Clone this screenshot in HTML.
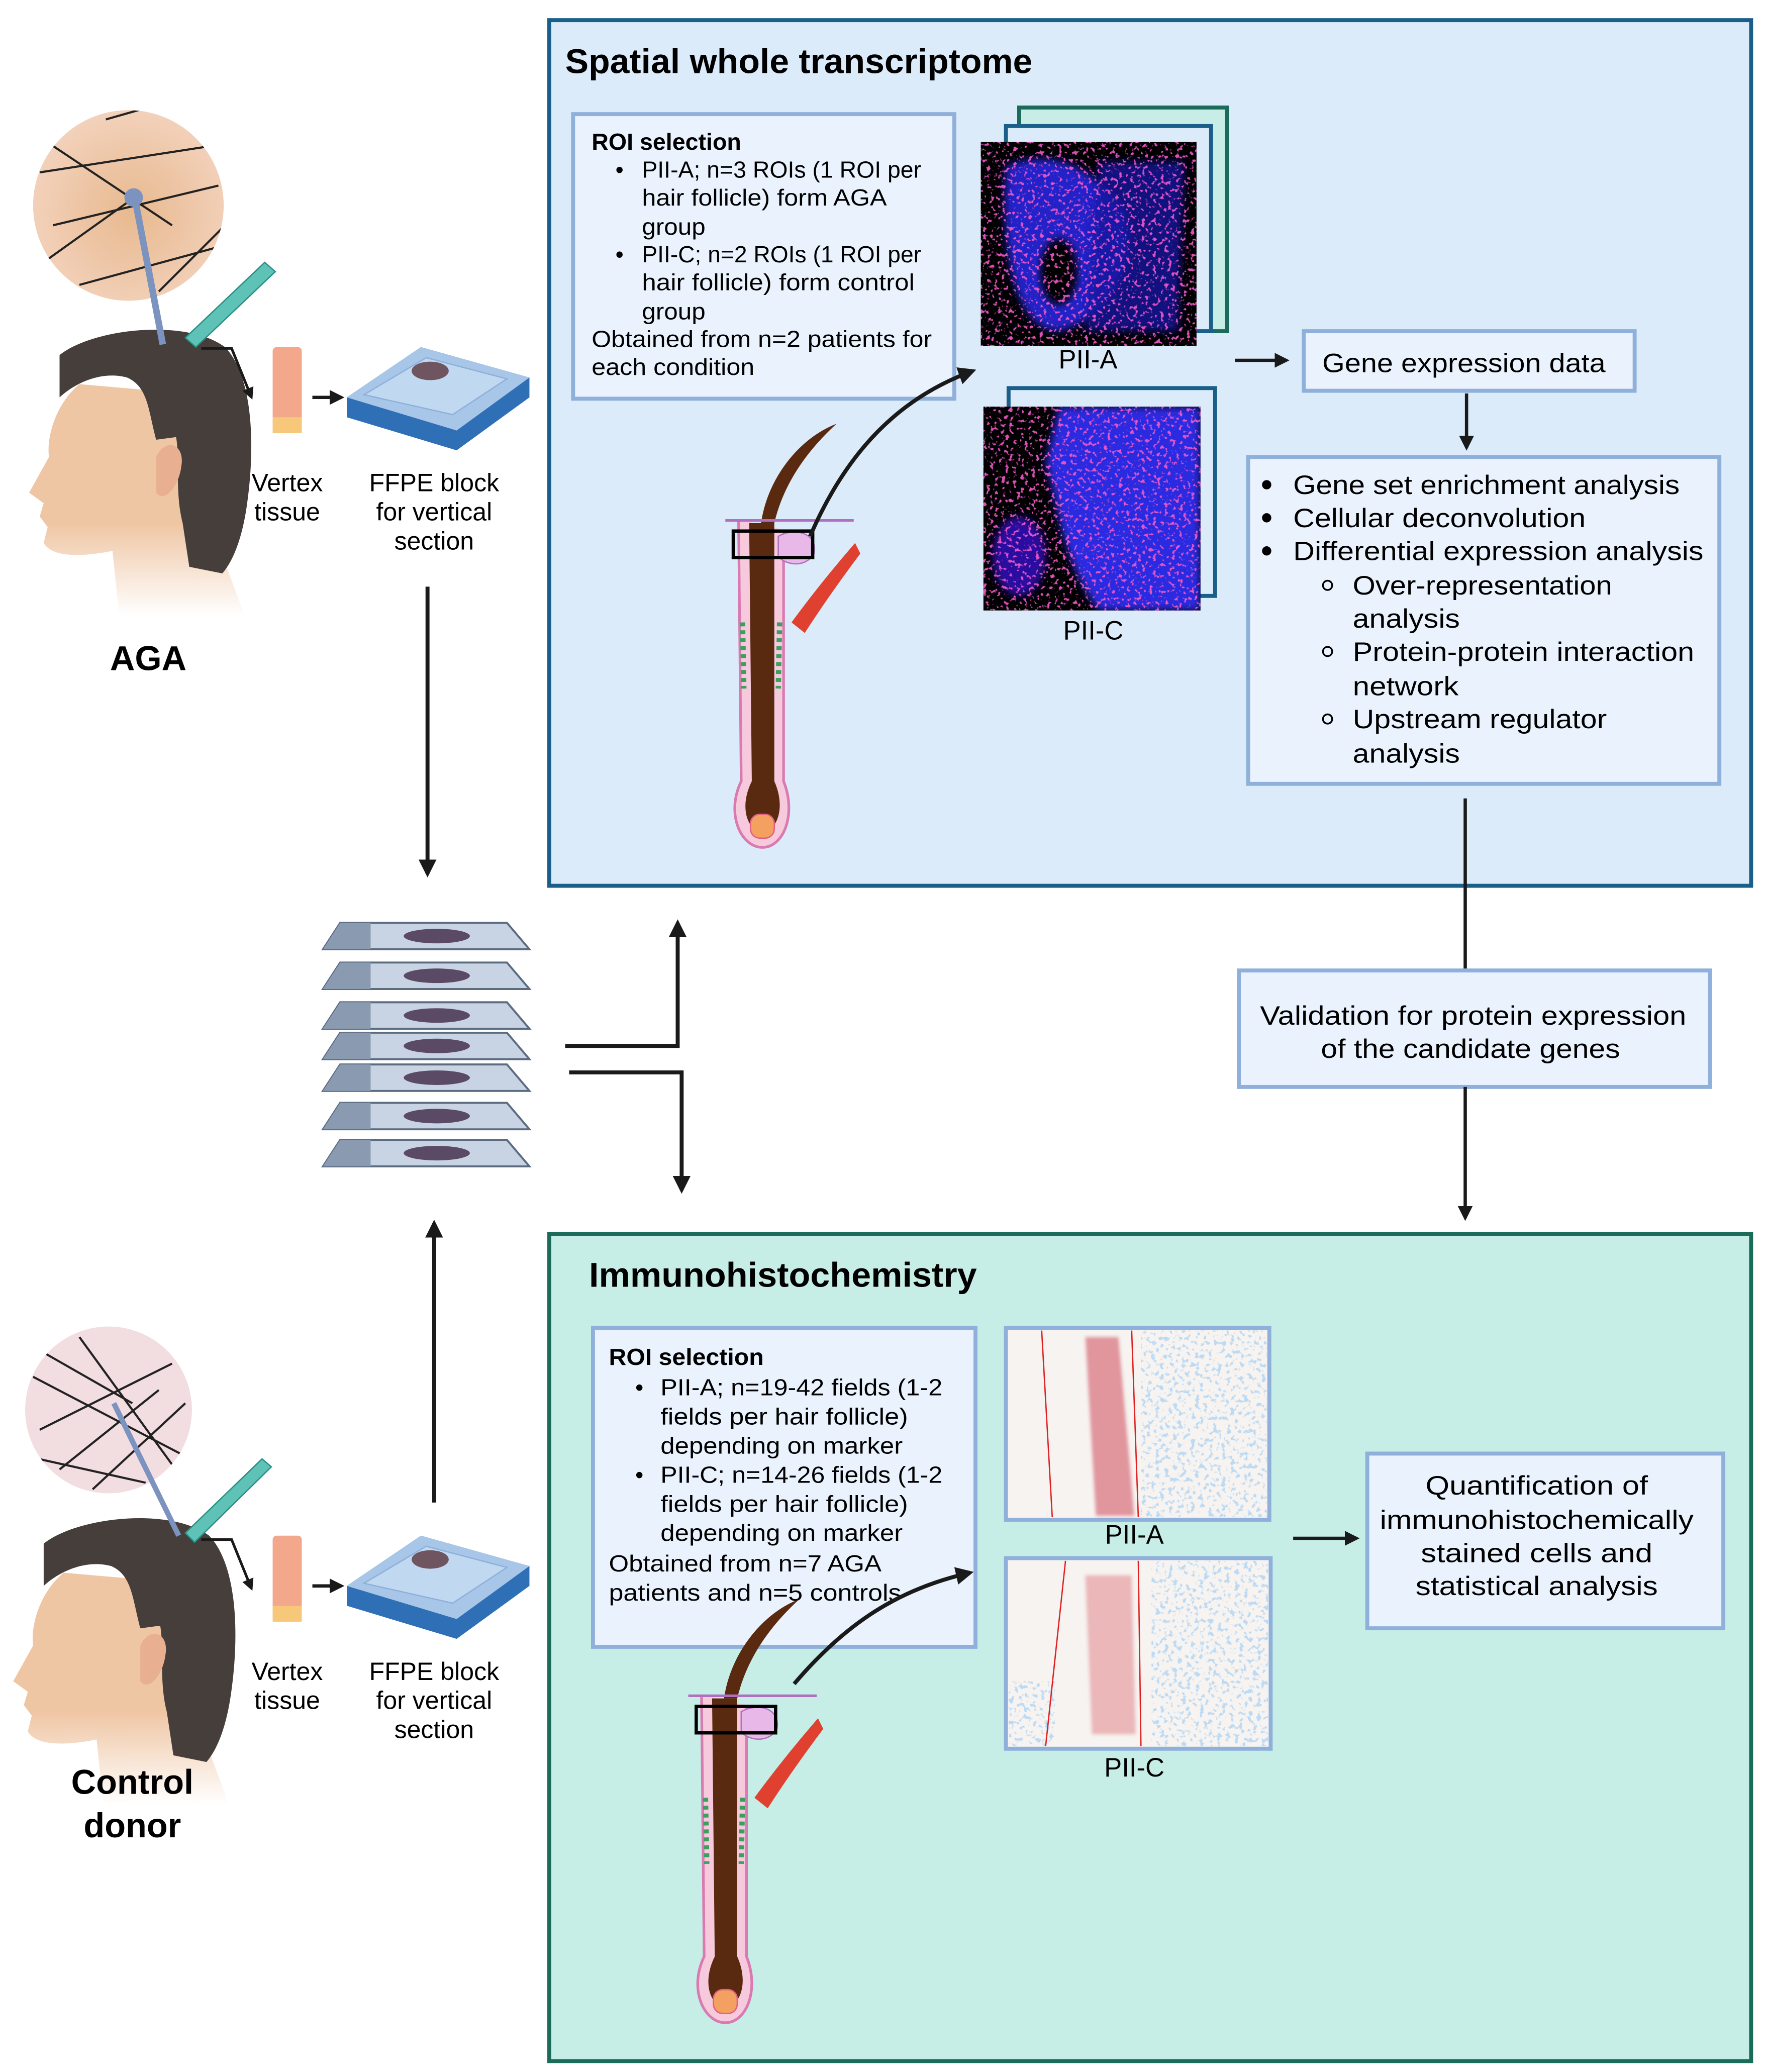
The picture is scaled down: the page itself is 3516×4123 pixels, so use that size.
<!DOCTYPE html>
<html><head><meta charset="utf-8"><style>
html,body{margin:0;padding:0;background:#fff}
svg{display:block}
text{font-family:"Liberation Sans",sans-serif;fill:#000}
.n{font-family:"Liberation Sans Narrow","Liberation Sans",sans-serif}
</style></head><body>
<svg width="3516" height="4123" viewBox="0 0 1335 1565" xmlns="http://www.w3.org/2000/svg">
<defs>
<marker id="ah" viewBox="0 0 10 10" refX="8" refY="5" markerWidth="4.5" markerHeight="4.5" orient="auto-start-reverse"><path d="M0,0 L10,5 L0,10 z" fill="#1a1a1a"/></marker>
<filter id="bl"><feGaussianBlur stdDeviation="3"/></filter>
<filter id="bl2"><feGaussianBlur stdDeviation="1.2"/></filter>
<filter id="spk" x="0" y="0" width="1" height="1">
<feTurbulence type="fractalNoise" baseFrequency="0.35" numOctaves="2" seed="3" result="t"/>
<feColorMatrix in="t" type="matrix" values="0 0 0 0 0.9  0 0 0 0 0.1  0 0 0 0 0.6  0 0 0 9 -5.2" result="m"/>
<feComposite in="m" in2="SourceGraphic" operator="in"/>
</filter>
<filter id="spkb" x="0" y="0" width="1" height="1">
<feTurbulence type="fractalNoise" baseFrequency="0.3" numOctaves="2" seed="8" result="t"/>
<feColorMatrix in="t" type="matrix" values="0 0 0 0 0.5  0 0 0 0 0.7  0 0 0 0 0.9  0 0 0 9 -5" result="m"/>
<feComposite in="m" in2="SourceGraphic" operator="in"/>
</filter>
<radialGradient id="skin" cx="0.5" cy="0.5" r="0.5"><stop offset="0" stop-color="#e8b98f"/><stop offset="1" stop-color="#f3d2bc"/></radialGradient>
<linearGradient id="neck" x1="0" y1="0" x2="0" y2="1"><stop offset="0.6" stop-color="#efc6a4"/><stop offset="1" stop-color="#efc6a4" stop-opacity="0"/></linearGradient>
<clipPath id="c1"><circle cx="97" cy="155" r="72"/></clipPath>
<clipPath id="c2"><circle cx="82" cy="1065" r="63"/></clipPath>
<clipPath id="i1"><rect x="741" y="107" width="163" height="154"/></clipPath>
<clipPath id="i2"><rect x="743" y="307" width="164" height="154"/></clipPath>
</defs>

<!-- Top panel -->
<rect x="415" y="15" width="908" height="654" fill="#dcebf9" stroke="#1a5f8a" stroke-width="3"/>
<text x="427" y="55" font-size="26" font-weight="bold" class="n" textLength="353" lengthAdjust="spacingAndGlyphs">Spatial whole transcriptome</text>

<rect x="433" y="86" width="288" height="215" fill="#eaf3fd" stroke="#8fb0da" stroke-width="3"/>
<g font-size="17.5" class="n">
<text x="447" y="113" font-weight="bold" class="n" textLength="113" lengthAdjust="spacingAndGlyphs">ROI selection</text>
<text x="465" y="134">•</text><text x="485" y="134" class="n" textLength="211" lengthAdjust="spacingAndGlyphs">PII-A; n=3 ROIs (1 ROI per</text>
<text x="485" y="155" class="n" textLength="185" lengthAdjust="spacingAndGlyphs">hair follicle) form AGA</text>
<text x="485" y="177" class="n" textLength="48" lengthAdjust="spacingAndGlyphs">group</text>
<text x="465" y="198">•</text><text x="485" y="198" class="n" textLength="211" lengthAdjust="spacingAndGlyphs">PII-C; n=2 ROIs (1 ROI per</text>
<text x="485" y="219" class="n" textLength="206" lengthAdjust="spacingAndGlyphs">hair follicle) form control</text>
<text x="485" y="241" class="n" textLength="48" lengthAdjust="spacingAndGlyphs">group</text>
<text x="447" y="262" class="n" textLength="257" lengthAdjust="spacingAndGlyphs">Obtained from n=2 patients for</text>
<text x="447" y="283" class="n" textLength="123" lengthAdjust="spacingAndGlyphs">each condition</text>
</g>

<!-- PII-A stack -->
<rect x="770" y="81" width="157" height="169" fill="#c8ece6" stroke="#1a6b5a" stroke-width="3"/>
<rect x="760" y="95" width="155" height="155" fill="#dcebf9" stroke="#1a5f8a" stroke-width="3"/>
<rect x="741" y="107" width="163" height="154" fill="#000"/>
<g clip-path="url(#i1)">
<path d="M760,125 C800,110 830,130 850,160 C860,200 840,240 800,250 C770,250 755,200 760,125z" fill="#2020c8" filter="url(#bl)"/>
<path d="M830,122 L895,122 L890,250 L820,250z" fill="#1818a0" filter="url(#bl)" opacity="0.8"/>
<ellipse cx="800" cy="205" rx="14" ry="25" fill="#000" filter="url(#bl)"/>
<rect x="741" y="107" width="163" height="154" fill="#fff" filter="url(#spk)" opacity="0.9"/>
</g>
<text x="822" y="278" font-size="20" text-anchor="middle">PII-A</text>

<!-- PII-C -->
<rect x="762" y="293" width="156" height="157" fill="#dcebf9" stroke="#1a5f8a" stroke-width="3"/>
<rect x="743" y="307" width="164" height="154" fill="#000"/>
<g clip-path="url(#i2)">
<path d="M800,307 L907,307 L907,461 L830,461 C800,420 800,380 790,350z" fill="#2a2ae0" filter="url(#bl)"/>
<ellipse cx="770" cy="420" rx="20" ry="30" fill="#2a10a0" filter="url(#bl)"/>
<rect x="743" y="307" width="164" height="154" fill="#fff" filter="url(#spk)" opacity="0.9"/>
</g>
<text x="826" y="483" font-size="20" text-anchor="middle">PII-C</text>

<line x1="933" y1="272" x2="972" y2="272" stroke="#1a1a1a" stroke-width="2.5" marker-end="url(#ah)"/>
<rect x="985" y="250" width="250" height="45" fill="#eaf3fd" stroke="#8fb0da" stroke-width="3"/>
<text x="1106" y="281" font-size="20" text-anchor="middle" textLength="214" lengthAdjust="spacingAndGlyphs">Gene expression data</text>
<line x1="1108" y1="297" x2="1108" y2="338" stroke="#1a1a1a" stroke-width="2.5" marker-end="url(#ah)"/>

<rect x="943" y="345" width="356" height="247" fill="#eaf3fd" stroke="#8fb0da" stroke-width="3"/>
<g font-size="20">
<circle cx="957" cy="366" r="3.5" fill="#000"/><text x="977" y="373" textLength="292" lengthAdjust="spacingAndGlyphs">Gene set enrichment analysis</text>
<circle cx="957" cy="391" r="3.5" fill="#000"/><text x="977" y="398" textLength="221" lengthAdjust="spacingAndGlyphs">Cellular deconvolution</text>
<circle cx="957" cy="416" r="3.5" fill="#000"/><text x="977" y="423" textLength="310" lengthAdjust="spacingAndGlyphs">Differential expression analysis</text>
<circle cx="1003" cy="442" r="3.5" fill="none" stroke="#000" stroke-width="1.3"/><text x="1022" y="449" textLength="196" lengthAdjust="spacingAndGlyphs">Over-representation</text>
<text x="1022" y="474" textLength="81" lengthAdjust="spacingAndGlyphs">analysis</text>
<circle cx="1003" cy="492" r="3.5" fill="none" stroke="#000" stroke-width="1.3"/><text x="1022" y="499" textLength="258" lengthAdjust="spacingAndGlyphs">Protein-protein interaction</text>
<text x="1022" y="525" textLength="80" lengthAdjust="spacingAndGlyphs">network</text>
<circle cx="1003" cy="543" r="3.5" fill="none" stroke="#000" stroke-width="1.3"/><text x="1022" y="550" textLength="192" lengthAdjust="spacingAndGlyphs">Upstream regulator</text>
<text x="1022" y="576" textLength="81" lengthAdjust="spacingAndGlyphs">analysis</text>
</g>

<line x1="1107" y1="603" x2="1107" y2="733" stroke="#1a1a1a" stroke-width="2.5"/>
<rect x="936" y="733" width="356" height="88" fill="#eaf3fd" stroke="#8fb0da" stroke-width="3"/>
<text x="1113" y="774" font-size="20" text-anchor="middle" textLength="322" lengthAdjust="spacingAndGlyphs">Validation for protein expression</text>
<text x="1111" y="799" font-size="20" text-anchor="middle" textLength="226" lengthAdjust="spacingAndGlyphs">of the candidate genes</text>
<line x1="1107" y1="821" x2="1107" y2="920" stroke="#1a1a1a" stroke-width="2.5" marker-end="url(#ah)"/>

<!-- Bottom panel -->
<rect x="415" y="932" width="908" height="625" fill="#c6ede6" stroke="#1a6b5a" stroke-width="3"/>
<text x="445" y="972" font-size="26" font-weight="bold" class="n" textLength="293" lengthAdjust="spacingAndGlyphs">Immunohistochemistry</text>

<rect x="448" y="1003" width="289" height="241" fill="#eaf3fd" stroke="#8fb0da" stroke-width="3"/>
<g font-size="17.5">
<text x="460" y="1031" font-weight="bold" class="n" textLength="117" lengthAdjust="spacingAndGlyphs">ROI selection</text>
<text x="480" y="1054">•</text><text x="499" y="1054" class="n" textLength="213" lengthAdjust="spacingAndGlyphs">PII-A; n=19-42 fields (1-2</text>
<text x="499" y="1076" class="n" textLength="187" lengthAdjust="spacingAndGlyphs">fields per hair follicle)</text>
<text x="499" y="1098" class="n" textLength="183" lengthAdjust="spacingAndGlyphs">depending on marker</text>
<text x="480" y="1120">•</text><text x="499" y="1120" class="n" textLength="213" lengthAdjust="spacingAndGlyphs">PII-C; n=14-26 fields (1-2</text>
<text x="499" y="1142" class="n" textLength="187" lengthAdjust="spacingAndGlyphs">fields per hair follicle)</text>
<text x="499" y="1164" class="n" textLength="183" lengthAdjust="spacingAndGlyphs">depending on marker</text>
<text x="460" y="1187" class="n" textLength="206" lengthAdjust="spacingAndGlyphs">Obtained from n=7 AGA</text>
<text x="460" y="1209" class="n" textLength="221" lengthAdjust="spacingAndGlyphs">patients and n=5 controls</text>
</g>

<!-- IHC images -->
<rect x="760" y="1003" width="199" height="145" fill="#f6f3f0" stroke="#8fb0da" stroke-width="3"/>
<rect x="862" y="1005" width="95" height="141" fill="#fff" filter="url(#spkb)"/>
<g filter="url(#bl2)"><path d="M820,1010 L845,1010 L857,1145 L828,1145z" fill="#c8283a" opacity="0.45"/></g>
<path d="M787,1005 L795,1146 M855,1005 L860,1146" stroke="#e02020" stroke-width="1" fill="none"/>
<text x="857" y="1166" font-size="20" text-anchor="middle">PII-A</text>
<rect x="760" y="1177" width="200" height="144" fill="#f6f3f0" stroke="#8fb0da" stroke-width="3"/>
<rect x="870" y="1179" width="88" height="140" fill="#fff" filter="url(#spkb)"/>
<rect x="762" y="1270" width="35" height="49" fill="#fff" filter="url(#spkb)"/>
<g filter="url(#bl2)"><path d="M820,1190 L855,1190 L858,1310 L825,1310z" fill="#d0303a" opacity="0.3"/></g>
<path d="M805,1179 L790,1319 M860,1179 L862,1319" stroke="#e02020" stroke-width="1" fill="none"/>
<text x="857" y="1342" font-size="20" text-anchor="middle">PII-C</text>

<line x1="977" y1="1162" x2="1025" y2="1162" stroke="#1a1a1a" stroke-width="2.5" marker-end="url(#ah)"/>
<rect x="1033" y="1098" width="269" height="132" fill="#eaf3fd" stroke="#8fb0da" stroke-width="3"/>
<g font-size="20" text-anchor="middle">
<text x="1161" y="1129" textLength="168" lengthAdjust="spacingAndGlyphs">Quantification of</text>
<text x="1161" y="1155" textLength="237" lengthAdjust="spacingAndGlyphs">immunohistochemically</text>
<text x="1161" y="1180" textLength="175" lengthAdjust="spacingAndGlyphs">stained cells and</text>
<text x="1161" y="1205" textLength="183" lengthAdjust="spacingAndGlyphs">statistical analysis</text>
</g>

<!-- Hair follicles -->
<g id="fol1">
<path d="M558,392 L560,590 C548,615 560,640 576,640 C592,640 602,615 592,590 L592,400" fill="#f6c9dc" stroke="#d97ab0" stroke-width="2"/>
<path d="M566,395 L568,590 C558,610 565,628 576,628 C587,628 594,610 585,590 L585,395" fill="#5a2a10"/>
<path d="M575,395 C580,360 605,330 632,320 C610,340 592,365 585,395z" fill="#5a2a10"/>
<rect x="567" y="615" width="18" height="18" rx="7" fill="#f3a060" stroke="#e06080"/>
<path d="M588,405 C600,398 618,402 615,418 C608,430 592,426 588,420z" fill="#e8b8e8" stroke="#b070c0"/>
<path d="M598,470 Q620,440 646,410 L650,418 Q626,450 608,478z" fill="#e04030"/>
<line x1="548" y1="393" x2="645" y2="393" stroke="#b070c0" stroke-width="2"/>
<rect x="554" y="401" width="60" height="20" fill="none" stroke="#000" stroke-width="2.5"/>
<path d="M561,470 L562,520 M589,470 L588,520" stroke="#3aa060" stroke-width="4" stroke-dasharray="3 3"/>
</g>
<path d="M612,405 C640,340 680,300 735,280" fill="none" stroke="#1a1a1a" stroke-width="3" marker-end="url(#ah)"/>
<use href="#fol1" transform="translate(-28,888)"/>
<path d="M600,1272 C640,1225 680,1200 733,1188" fill="none" stroke="#1a1a1a" stroke-width="3" marker-end="url(#ah)"/>

<!-- Slides stack -->
<g>
<g id="sl">
<path d="M257,697 L383,697 L400,717 L244,717z" fill="#c8d4e4" stroke="#5b6b80" stroke-width="1.5"/>
<path d="M257,697 L280,697 L280,717 L244,717z" fill="#8a9ab0"/>
<ellipse cx="330" cy="707" rx="25" ry="5.5" fill="#5b4a66"/>
</g>
<use href="#sl" transform="translate(0,30)"/>
<use href="#sl" transform="translate(0,60)"/>
<use href="#sl" transform="translate(0,83)"/>
<use href="#sl" transform="translate(0,107)"/>
<use href="#sl" transform="translate(0,136)"/>
<use href="#sl" transform="translate(0,164)"/>
</g>
<line x1="323" y1="443" x2="323" y2="660" stroke="#1a1a1a" stroke-width="3" marker-end="url(#ah)"/>
<line x1="328" y1="1135" x2="328" y2="924" stroke="#1a1a1a" stroke-width="3" marker-end="url(#ah)"/>
<path d="M427,790 L512,790 L512,697" fill="none" stroke="#1a1a1a" stroke-width="3" marker-end="url(#ah)"/>
<path d="M430,810 L515,810 L515,899" fill="none" stroke="#1a1a1a" stroke-width="3" marker-end="url(#ah)"/>

<!-- AGA person -->
<g id="person">
<path d="M60,290 C42,305 35,330 37,345 L22,372 L33,380 L30,390 L36,398 L33,410 C40,422 65,420 85,416 L90,465 L185,465 L170,425 L180,380 L175,300 Z" fill="url(#neck)"/>
<path d="M45,268 C70,248 140,240 170,262 C192,285 193,340 186,385 C182,410 175,425 168,433 L143,428 L138,395 C132,372 136,345 133,330 L118,332 C112,310 112,292 96,285 C78,280 58,288 45,300 Z" fill="#463e3a"/>
<path d="M118,345 C125,330 140,335 137,352 C135,368 124,380 118,372 Z" fill="#e8b090"/>
</g>
<g clip-path="url(#c1)">
<rect x="20" y="80" width="160" height="160" fill="url(#skin)"/>
<path d="M30,130 L160,110 M40,170 L165,140 M60,215 L170,185 M80,90 L150,70 M30,200 L100,150 M120,220 L170,170 M40,110 L130,170" stroke="#222" stroke-width="1.6"/>
</g>
<line x1="102" y1="150" x2="123" y2="260" stroke="#7d93bf" stroke-width="5"/>
<circle cx="101" cy="149" r="7" fill="#7d93bf"/>
<path d="M140,255 L200,198 L208,205 L148,262z" fill="#5ec2b6" stroke="#2a8f85" stroke-width="1"/>
<path d="M152,263 L175,263 L190,300" fill="none" stroke="#1a1a1a" stroke-width="2" marker-end="url(#ah)"/>
<rect x="206" y="262" width="22" height="65" rx="3" fill="#f3a78b"/>
<rect x="206" y="315" width="22" height="12" fill="#f7c87a"/>
<line x1="236" y1="300" x2="258" y2="300" stroke="#1a1a1a" stroke-width="2.5" marker-end="url(#ah)"/>
<path d="M262,315 L345,340 L400,300 L400,285 L318,262 L262,300 Z" fill="#2f6fb5"/>
<path d="M262,300 L318,262 L400,285 L345,325 Z" fill="#a8c6e8"/>
<path d="M275,298 L322,270 L383,286 L342,313 Z" fill="#c0d8f0" stroke="#8fb0da"/>
<ellipse cx="325" cy="280" rx="14" ry="7" fill="#6e5560"/>
<g font-size="19" text-anchor="middle">
<text x="217" y="371">Vertex</text><text x="217" y="393">tissue</text>
<text x="328" y="371">FFPE block</text><text x="328" y="393">for vertical</text><text x="328" y="415">section</text>
</g>
<text x="112" y="506" font-size="26" font-weight="bold" text-anchor="middle">AGA</text>

<!-- Control person -->
<use href="#person" transform="translate(-12,898)"/>
<g clip-path="url(#c2)">
<rect x="15" y="1000" width="140" height="130" fill="#f2dde0"/>
<path d="M25,1040 L140,1100 M30,1080 L130,1030 M45,1110 L120,1050 M60,1010 L140,1120 M20,1100 L110,1120 M70,1125 L140,1060 M30,1020 L100,1060" stroke="#222" stroke-width="1.6"/>
</g>
<line x1="86" y1="1060" x2="135" y2="1160" stroke="#7d93bf" stroke-width="4"/>
<path d="M140,1158 L198,1102 L205,1108 L147,1165z" fill="#5ec2b6" stroke="#2a8f85" stroke-width="1"/>
<path d="M152,1163 L175,1163 L190,1200" fill="none" stroke="#1a1a1a" stroke-width="2" marker-end="url(#ah)"/>
<rect x="206" y="1160" width="22" height="65" rx="3" fill="#f3a78b"/>
<rect x="206" y="1213" width="22" height="12" fill="#f7c87a"/>
<line x1="236" y1="1198" x2="258" y2="1198" stroke="#1a1a1a" stroke-width="2.5" marker-end="url(#ah)"/>
<g transform="translate(0,898)">
<path d="M262,315 L345,340 L400,300 L400,285 L318,262 L262,300 Z" fill="#2f6fb5"/>
<path d="M262,300 L318,262 L400,285 L345,325 Z" fill="#a8c6e8"/>
<path d="M275,298 L322,270 L383,286 L342,313 Z" fill="#c0d8f0" stroke="#8fb0da"/>
<ellipse cx="325" cy="280" rx="14" ry="7" fill="#6e5560"/>
</g>
<g font-size="19" text-anchor="middle">
<text x="217" y="1269">Vertex</text><text x="217" y="1291">tissue</text>
<text x="328" y="1269">FFPE block</text><text x="328" y="1291">for vertical</text><text x="328" y="1313">section</text>
</g>
<text x="100" y="1355" font-size="26" font-weight="bold" text-anchor="middle">Control</text>
<text x="100" y="1388" font-size="26" font-weight="bold" text-anchor="middle">donor</text>
</svg>
</body></html>
